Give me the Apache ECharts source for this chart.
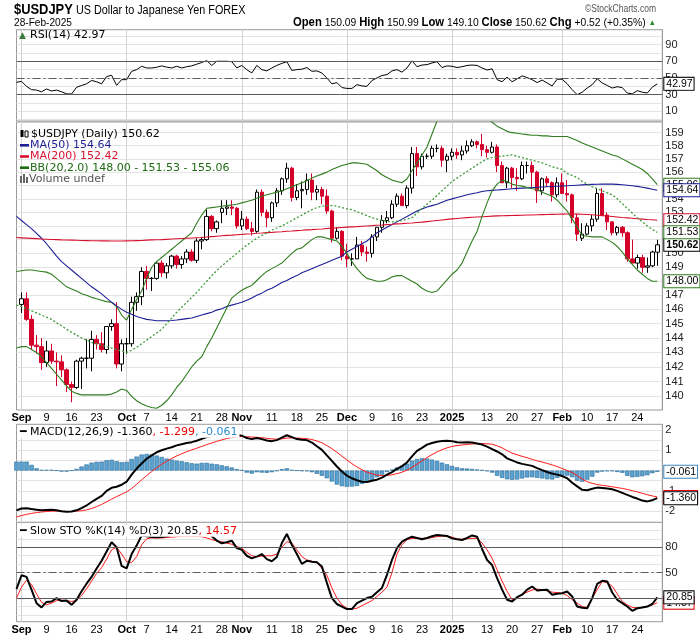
<!DOCTYPE html>
<html>
<head>
<meta charset="utf-8">
<script src="https://cdn.jsdelivr.net/npm/echarts@6.0.0/dist/echarts.min.js"></script>
<style>
html,body{margin:0;padding:0;background:#fff;}
#chart{width:700px;height:639px;}
</style>
</head>
<body>
<div id="chart"></div>
<script>
// ---------------- DATA ----------------
const holidays = ['2024-12-25', '2025-01-01'];
const firstDay = '2024-08-30';
const lastDay = '2025-02-28';
const padDays = ['2025-03-03'];

const xLabelDates = ['2024-09-02','2024-09-09','2024-09-16','2024-09-23','2024-10-01','2024-10-07','2024-10-14','2024-10-21','2024-10-28','2024-11-01','2024-11-11','2024-11-18','2024-11-25','2024-12-02','2024-12-09','2024-12-16','2024-12-23','2025-01-02','2025-01-13','2025-01-20','2025-01-27','2025-02-03','2025-02-10','2025-02-17','2025-02-24'];
const xLabelTexts = ['Sep','9','16','23','Oct','7','14','21','28','Nov','11','18','25','Dec','9','16','23','2025','13','20','27','Feb','10','17','24'];
const monthStarts = ['2024-09-02','2024-10-01','2024-11-01','2024-12-02','2025-01-02','2025-02-03'];

// first entry (30-Aug) lies on the left border: only indicators are shown for it
const opens = [null,146.35,146.75,145.3,143.5,143.4,142.3,143.1,142.4,142.35,
 141.8,140.8,140.6,142.4,142.6,142.6,143.9,143.6,143.2,144.8,
 145.0,142.2,143.6,143.6,146.5,146.9,148.7,148.2,148.2,149.3,
 148.6,149.1,149.8,149.2,149.6,150.1,149.5,150.9,151.0,152.7,
 151.8,153.0,153.3,153.4,153.3,152.0,152.5,151.8,151.6,154.5,
 153.0,152.6,153.7,154.6,155.5,156.3,154.1,154.6,154.7,155.4,
 154.5,154.7,154.2,153.1,151.1,151.6,149.8,149.6,149.6,150.6,
 150.1,150.0,151.2,151.9,152.4,152.6,153.6,154.2,153.5,154.8,
 157.4,156.4,157.2,157.2,157.8,157.8,156.9,157.2,157.5,157.3,
 157.6,158.0,158.3,158.1,157.7,157.5,157.9,156.5,155.2,156.3,
 155.6,155.5,156.5,156.5,156.0,154.6,155.5,155.2,154.3,155.2,
 154.4,154.3,152.6,151.1,151.4,152.0,152.5,154.4,152.8,152.3,
 151.5,151.9,151.5,149.6,149.3,149.7,149.0,149.1,150.09];
const highs = [null,147.2,147.2,145.6,144.2,144.0,143.8,143.6,143.0,142.8,
 141.9,141.0,142.5,142.7,143.9,144.5,144.2,144.4,144.8,145.3,
 146.5,143.9,144.0,146.9,147.2,149.0,149.1,148.3,149.4,149.5,
 149.3,149.9,149.9,149.8,150.3,150.3,151.1,151.2,153.2,152.8,
 152.4,153.9,153.9,153.9,153.4,153.1,152.7,152.3,154.7,154.7,
 153.2,153.8,154.8,155.6,156.7,156.4,155.1,155.3,155.9,155.9,
 155.0,154.9,154.7,153.2,151.9,151.7,150.7,150.0,151.2,150.9,
 150.5,151.4,151.9,152.8,153.1,153.9,154.4,154.4,155.0,157.9,
 157.9,157.4,157.4,158.0,158.1,158.0,157.4,157.8,157.8,158.0,
 158.4,158.5,158.4,158.9,158.0,158.3,158.1,156.8,156.4,156.4,
 156.3,156.8,156.8,156.8,156.1,155.6,155.7,155.3,155.6,155.9,
 155.4,154.4,152.9,152.2,152.2,152.8,154.8,154.8,153.0,152.3,
 152.0,152.0,151.6,151.0,149.9,149.9,149.7,150.2,150.99];
const lows = [null,145.75,145.2,143.2,142.9,141.8,142.0,142.2,140.7,141.3,
 140.3,139.6,140.5,140.5,141.9,141.7,143.2,143.0,142.9,144.5,
 141.9,141.7,142.9,143.4,145.9,146.3,147.4,147.3,148.1,148.3,
 148.2,148.9,148.9,148.9,149.3,149.4,149.3,150.3,150.9,151.6,
 151.5,152.2,152.8,152.8,151.8,151.7,151.7,151.3,151.5,152.7,
 151.9,152.3,153.4,154.3,155.2,153.8,153.9,153.3,154.3,153.9,
 153.9,153.6,152.9,150.8,151.0,149.5,149.0,149.1,149.6,149.8,
 149.4,149.7,150.9,151.5,152.2,152.5,153.4,153.5,153.3,154.4,
 155.7,156.2,157.0,157.0,157.5,156.4,156.0,156.9,157.0,156.9,
 157.4,157.9,157.8,157.2,157.1,157.4,156.0,155.2,154.8,154.8,
 154.6,155.4,155.9,154.9,153.7,154.3,154.9,153.8,154.1,154.8,
 153.8,152.2,150.9,150.9,151.3,151.6,152.3,152.8,151.7,151.3,
 151.3,151.2,149.4,149.3,148.9,148.6,148.6,149.0,149.10];
const closes = [null,146.75,145.3,143.5,143.4,142.3,143.1,142.4,142.35,141.8,
 140.8,140.6,142.4,142.6,142.6,143.9,143.6,143.2,144.8,145.0,
 142.2,143.6,143.6,146.5,146.9,148.7,148.2,148.2,149.3,148.6,
 149.1,149.8,149.2,149.6,150.1,149.5,150.9,151.0,152.7,151.8,
 152.3,153.3,153.4,153.3,152.0,152.5,151.8,151.6,154.5,153.0,
 152.6,153.7,154.6,155.5,156.3,154.1,154.6,154.7,155.4,154.5,
 154.7,154.2,153.1,151.1,151.6,149.8,149.6,149.6,150.6,150.1,
 150.0,151.2,151.9,152.4,152.6,153.6,154.2,153.5,154.8,157.4,
 156.4,157.2,157.2,157.8,157.8,156.9,157.2,157.5,157.3,157.6,
 158.0,158.3,158.1,157.7,157.5,157.9,156.5,155.2,156.3,155.6,
 155.5,156.5,156.5,156.0,154.6,155.5,155.2,154.3,155.2,154.4,
 154.3,152.6,151.4,151.4,152.0,152.5,154.4,152.8,152.3,151.5,
 151.9,151.5,149.6,149.3,149.7,149.0,149.1,150.1,150.62];

const ma50 = [152.7,152.4,152.1,151.8,151.45,151.1,150.7,150.25,149.8,149.4,
 149.1,148.8,148.5,148.2,147.9,147.6,147.35,147.1,146.8,146.5,
 146.25,146.0,145.8,145.65,145.5,145.4,145.3,145.25,145.2,145.2,
 145.2,145.22,145.25,145.3,145.35,145.4,145.5,145.6,145.7,145.8,
 145.95,146.05,146.2,146.3,146.4,146.5,146.65,146.8,147.0,147.15,
 147.35,147.5,147.7,147.9,148.05,148.25,148.4,148.6,148.75,148.9,
 149.05,149.2,149.35,149.5,149.65,149.8,150.1,150.3,150.5,150.7,
 150.9,151.2,151.5,151.7,151.9,152.1,152.3,152.5,152.7,152.9,
 153.1,153.25,153.4,153.5,153.6,153.75,153.9,154.0,154.1,154.2,
 154.3,154.38,154.46,154.55,154.6,154.63,154.66,154.69,154.72,154.75,
 154.78,154.8,154.82,154.84,154.86,154.88,154.9,154.92,154.94,154.96,
 154.98,155.0,155.02,155.04,155.06,155.08,155.09,155.1,155.1,155.1,
 155.08,155.05,155.02,154.98,154.93,154.87,154.8,154.72,154.64];
const ma200 = [151.15,151.13,151.11,151.09,151.07,151.05,151.03,151.01,151.0,150.98,
 150.97,150.96,150.95,150.94,150.93,150.92,150.92,150.91,150.91,150.9,
 150.9,150.9,150.91,150.92,150.93,150.94,150.96,150.98,150.99,151.0,
 151.02,151.04,151.06,151.08,151.1,151.12,151.14,151.16,151.19,151.22,
 151.25,151.28,151.31,151.33,151.36,151.38,151.41,151.43,151.46,151.48,
 151.51,151.53,151.56,151.58,151.61,151.63,151.66,151.68,151.71,151.73,
 151.76,151.78,151.81,151.84,151.86,151.89,151.91,151.93,151.95,151.98,
 152.0,152.02,152.05,152.07,152.1,152.12,152.15,152.17,152.2,152.22,
 152.25,152.28,152.32,152.36,152.4,152.44,152.48,152.52,152.55,152.58,
 152.61,152.64,152.66,152.68,152.7,152.72,152.74,152.75,152.76,152.77,
 152.78,152.79,152.8,152.81,152.82,152.83,152.84,152.85,152.86,152.87,
 152.88,152.88,152.87,152.86,152.84,152.82,152.79,152.76,152.73,152.7,
 152.66,152.62,152.59,152.56,152.53,152.5,152.47,152.45,152.42];
const bbUpper = [148.7,148.75,148.8,148.8,148.75,148.7,148.65,148.5,148.2,147.9,
 147.6,147.45,147.3,147.1,147.0,146.85,146.75,146.65,146.55,146.5,
 146.2,145.6,145.25,146.0,146.7,147.3,148.2,149.0,149.4,149.7,
 150.0,150.3,150.6,150.9,151.2,151.5,152.2,152.8,153.3,153.35,
 153.4,153.45,153.5,153.55,153.6,153.7,153.8,153.9,154.05,154.2,
 154.3,154.4,154.5,154.6,154.75,154.9,155.05,155.2,155.35,155.55,
 155.7,155.85,156.0,156.2,156.35,156.5,156.6,156.7,156.7,156.65,
 156.6,156.35,156.1,155.8,155.6,155.4,155.3,155.2,155.5,156.1,
 156.7,157.3,157.9,158.9,159.9,160.3,160.6,160.8,160.9,160.9,
 160.8,160.7,160.5,160.3,160.1,159.8,159.5,159.3,159.1,159.0,
 158.95,158.9,158.85,158.8,158.8,158.75,158.75,158.7,158.7,158.7,
 158.7,158.55,158.4,158.2,158.05,157.9,157.75,157.6,157.45,157.3,
 157.2,157.0,156.8,156.6,156.4,156.2,155.9,155.5,155.06];
const bbMid = [146.3,146.2,146.05,145.9,145.75,145.6,145.45,145.3,145.05,144.85,
 144.6,144.4,144.2,144.0,143.85,143.7,143.6,143.5,143.4,143.3,
 143.2,143.1,143.0,143.15,143.35,143.6,143.85,144.1,144.35,144.6,
 145.0,145.4,145.8,146.15,146.5,146.85,147.2,147.6,148.0,148.4,
 148.75,149.1,149.4,149.7,150.0,150.3,150.6,150.85,151.1,151.3,
 151.5,151.7,151.85,152.0,152.2,152.4,152.6,152.8,153.0,153.2,
 153.35,153.45,153.5,153.5,153.45,153.35,153.25,153.2,153.05,152.9,
 152.75,152.6,152.5,152.4,152.35,152.3,152.35,152.4,152.5,152.6,
 152.95,153.3,153.6,153.9,154.25,154.6,154.95,155.3,155.55,155.8,
 156.05,156.3,156.55,156.8,157.0,157.1,157.15,157.2,157.25,157.3,
 157.2,157.1,157.0,156.9,156.8,156.7,156.55,156.4,156.3,156.2,
 155.9,155.75,155.6,155.3,155.1,154.9,154.75,154.6,154.45,154.3,
 154.0,153.65,153.3,152.95,152.6,152.3,152.0,151.75,151.53];
const bbLower = [143.3,143.4,143.4,143.2,143.0,142.7,142.3,141.9,141.5,141.1,
 140.7,140.35,140.2,140.1,140.1,140.1,140.1,140.1,140.1,140.15,
 140.3,140.5,140.4,140.0,139.7,139.5,139.35,139.25,139.2,139.4,
 139.7,140.1,140.6,141.0,141.5,142.0,142.4,142.7,143.4,144.0,
 144.7,145.4,146.1,146.8,147.1,147.35,147.55,147.7,148.05,148.4,
 148.7,148.9,149.1,149.3,149.65,150.0,150.3,150.4,150.7,151.0,
 151.2,151.2,151.1,151.0,150.9,150.5,150.0,149.4,148.9,148.5,
 148.2,148.1,148.0,148.0,148.1,148.3,148.4,148.4,148.2,148.0,
 147.8,147.5,147.3,147.2,147.3,147.7,148.1,148.5,148.8,149.3,
 150.1,150.9,151.6,152.7,153.7,154.6,155.1,155.4,155.3,155.1,
 155.0,154.95,154.85,154.75,154.7,154.5,154.35,154.2,153.9,153.5,
 153.1,152.5,151.9,151.3,151.25,151.2,151.2,151.2,151.0,150.8,
 150.5,150.1,149.6,149.2,148.8,148.5,148.2,148.0,148.0];

const rsi = [44.8,46,40,36,35.5,33.5,36.8,34.5,35.5,33.5,
 31,30.8,38.9,41,43,47,45.5,43,51.7,53.2,
 41.2,48,48,58,60,64,62,62,62.8,64.5,
 63,62,64,62,63.5,64.5,66.5,68.5,70.8,65,
 70,70,70,69.5,62,65,60,56,65,60,
 58.5,62,65,67.5,69.5,59,60,60.5,62.5,58,
 58.5,56,50,43,44.5,38.5,37.5,37.5,42,40.5,
 40,47,50,53,54,58.5,60,57,62,70.5,
 63.5,65.5,66,68,69.5,62.5,64.5,64,62.5,63.5,
 65,65.5,65,62,59.5,61,48,45.5,51,45.5,
 49,52.5,50.5,48,44.5,47.5,44,40.5,48.5,48.5,
 43,36,30,33,38,42,49,44,41,38,
 39.5,38.5,32,31,34.8,33,32,39,42.97];

const macd = [-1.96,-1.87,-1.86,-1.9,-1.93,-1.96,-1.94,-1.93,-1.96,-2.0,
 -2.03,-2.02,-1.96,-1.85,-1.72,-1.55,-1.4,-1.25,-1.0,-0.85,
 -0.8,-0.7,-0.55,-0.2,0.1,0.35,0.58,0.75,0.9,1.0,
 1.08,1.15,1.24,1.3,1.36,1.4,1.47,1.56,1.65,1.7,
 1.75,1.8,1.83,1.82,1.76,1.72,1.6,1.55,1.6,1.55,
 1.48,1.45,1.5,1.62,1.74,1.65,1.55,1.52,1.5,1.38,
 1.2,1.02,0.75,0.48,0.2,-0.05,-0.25,-0.38,-0.48,-0.55,
 -0.56,-0.5,-0.45,-0.35,-0.2,-0.08,0.08,0.22,0.4,0.7,
 0.97,1.12,1.28,1.36,1.42,1.46,1.47,1.45,1.4,1.38,
 1.4,1.38,1.33,1.28,1.18,1.06,0.94,0.8,0.6,0.5,
 0.4,0.33,0.28,0.23,0.12,0.02,-0.07,-0.15,-0.2,-0.27,
 -0.38,-0.6,-0.78,-0.95,-0.97,-0.9,-0.84,-0.86,-0.88,-0.92,
 -1.0,-1.1,-1.2,-1.3,-1.38,-1.48,-1.52,-1.46,-1.36];
const macdSignal = [-2.28,-2.22,-2.16,-2.11,-2.07,-2.04,-2.02,-2.0,-2.0,-2.01,
 -2.02,-2.02,-2.0,-1.98,-1.94,-1.87,-1.78,-1.67,-1.54,-1.41,
 -1.28,-1.17,-1.05,-0.88,-0.68,-0.46,-0.25,-0.05,0.14,0.31,
 0.46,0.6,0.72,0.83,0.93,1.02,1.1,1.19,1.28,1.36,
 1.44,1.51,1.58,1.63,1.66,1.68,1.67,1.65,1.64,1.62,
 1.59,1.56,1.55,1.56,1.6,1.61,1.6,1.59,1.57,1.53,
 1.46,1.37,1.23,1.08,0.9,0.71,0.52,0.34,0.18,0.04,
 -0.08,-0.16,-0.22,-0.25,-0.24,-0.21,-0.15,-0.08,0.02,0.15,
 0.32,0.48,0.64,0.79,0.92,1.03,1.12,1.19,1.23,1.26,
 1.29,1.31,1.32,1.33,1.32,1.3,1.22,1.12,0.98,0.86,
 0.78,0.7,0.63,0.55,0.48,0.42,0.35,0.28,0.2,0.1,
 0.0,-0.1,-0.25,-0.42,-0.55,-0.63,-0.69,-0.73,-0.76,-0.8,
 -0.84,-0.88,-0.93,-0.99,-1.05,-1.12,-1.19,-1.25,-1.299];
const macdHist = [0.44,0.44,0.44,0.28,0.11,0.03,0.03,0.03,0,-0.05,
 -0.05,0,0.08,0.2,0.3,0.39,0.43,0.44,0.51,0.53,
 0.46,0.41,0.43,0.57,0.69,0.79,0.82,0.79,0.74,0.67,
 0.59,0.54,0.49,0.46,0.41,0.36,0.34,0.38,0.38,0.34,
 0.31,0.26,0.21,0.15,0.07,0.02,-0.1,-0.15,-0.08,-0.1,
 -0.11,-0.08,-0.02,0.07,0.11,0.03,0,-0.02,-0.03,-0.08,
 -0.16,-0.26,-0.38,-0.54,-0.69,-0.77,-0.8,-0.79,-0.76,-0.66,
 -0.56,-0.46,-0.33,-0.2,-0.07,0.05,0.15,0.23,0.34,0.49,
 0.57,0.61,0.59,0.54,0.48,0.39,0.31,0.23,0.16,0.11,
 0.1,0.08,0.05,0.02,-0.03,-0.1,-0.26,-0.36,-0.43,-0.46,
 -0.44,-0.39,-0.34,-0.33,-0.36,-0.39,-0.43,-0.44,-0.36,-0.26,
 -0.25,-0.33,-0.5,-0.55,-0.45,-0.3,-0.1,-0.05,-0.03,-0.03,
 -0.07,-0.11,-0.26,-0.33,-0.31,-0.28,-0.23,-0.13,-0.061];

const stoK = [30.6,47,45,30,14,9,15.5,16,20,16.5,
 17,12,18,28,37,45,55,64,75,86,
 80,58,55,72,82,94,93,92,91.7,92,
 93,94.5,95,95,95,95,95,96,97,93,
 88,84.7,86,87.8,79,77,70,67,69,72,
 66,63.5,68.6,85,95.7,83,72,60.4,64,63,
 62.4,57.4,38,20,13,10,7,7,14,17,
 20,21.5,27,32,47.5,65,79,86.6,90,92.5,
 91,89.4,91,93,94.5,94,93.3,90.5,89.5,88.6,
 91,94,92.5,78,65,59,43.5,30,18,16,
 21,24,30,33.7,29,29.5,29.8,24,25,25.7,
 27.7,21.8,10,8.5,8,20,36.9,40.4,39.6,26.6,
 18,14,10,5,8,9,10,13,20.85];
const stoD = [20,33,41,36,25,15,12,14,17,17.5,
 17,16,17,23,31,40,49,56,66,77,
 80,72,63,62,69,83,90,91,91,91,
 91.5,92,92.5,93,93,93,93,92.5,91,89,
 87.5,86.6,85,83.5,81,79,74,70,69,69.5,
 70,70,72,80,86.6,85,77,69,65,63.5,
 62.4,55,47,32,20,12,8,7,8,11,
 14,17,22,27,33,50,72,83,89,90.5,
 90.5,90.5,90.5,91.5,92.5,93.3,93.3,92,90,89.4,
 90,90.5,90.5,85,77,67,53.5,40,28,18,
 20,24,27,29.5,30.6,30,28.5,27,26.5,25.7,
 23,18,14,10,9,20,30,39.6,38,34,
 25,16,12,9,8.5,9,10,12,14.57];

const priceTicks = [140,141,142,143,144,145,146,147,148,149,150,151,152,153,154,155,156,157,158,159];
const rsiTicks = [0,10,20,30,40,50,60,70,80,90,100];
const rsiLabels = [10,30,50,70,90];
const macdTicks = [-2.5,-2,-1.5,-1,-0.5,0,0.5,1,1.5,2];
const macdLabels = [-2,-1,0,1,2];
const stoTicks = [0,10,20,30,40,50,60,70,80,90,100];
const stoLabels = [20,50,80];

const quote = {symbol:'$USDJPY', name:'US Dollar to Japanese Yen FOREX', date:'28-Feb-2025',
  open:'150.09', high:'150.99', low:'149.10', close:'150.62', chg:'+0.52', chgPct:'+0.35%'};

// ---------------- BUILD ----------------
function tradingDays(start, end, skip) {
  const out = [];
  const d = new Date(start + 'T00:00:00Z');
  const e = new Date(end + 'T00:00:00Z');
  while (d <= e) {
    const wd = d.getUTCDay();
    const s = d.toISOString().slice(0, 10);
    if (wd !== 0 && wd !== 6 && skip.indexOf(s) < 0) out.push(s);
    d.setUTCDate(d.getUTCDate() + 1);
  }
  return out;
}
const dates = tradingDays(firstDay, lastDay, holidays);
const categories = dates.concat(padDays);
const labelMap = {};
xLabelDates.forEach((d, i) => { labelMap[d] = xLabelTexts[i]; });
const monthSet = new Set(monthStarts);
const boldLabels = new Set(['Sep','Oct','Nov','Dec','2025','Feb']);
const candles = dates.map((d, i) => opens[i] == null ? '-' : [opens[i], closes[i], lows[i], highs[i]]);
const last = a => a[a.length - 1];

const AX_FONT = '"Liberation Sans", Arial, sans-serif';
const VERD = '"DejaVu Sans", Verdana, sans-serif';

const L = 16.5, W = 645.8;
const grids = [
  {left: L, top: 29.7, width: W, height: 91.3},
  {left: L, top: 122, width: W, height: 288},
  {left: L, top: 424.3, width: W, height: 98},
  {left: L, top: 522.3, width: W, height: 99.4}
].map(g => Object.assign(g, {show: true, borderColor: '#9a9a9a', borderWidth: 1, backgroundColor: '#fff', containLabel: false, outerBoundsMode: 'none'}));

const xAxes = [0, 1, 2, 3].map(i => ({
  type: 'category', gridIndex: i, data: categories, boundaryGap: false,
  axisLine: {show: false}, axisTick: {show: false},
  axisLabel: (i === 1 || i === 3) ? {
    show: true, margin: i === 1 ? 2 : 3, fontSize: 11, color: '#000', fontFamily: AX_FONT,
    interval: (idx, val) => labelMap[val] !== undefined,
    formatter: (val) => { const t = labelMap[val]; if (t === undefined) return ''; return boldLabels.has(t) ? '{b|' + t + '}' : t; },
    rich: {b: {fontWeight: 'bold', fontSize: 11, fontFamily: AX_FONT, color: '#000'}}
  } : {show: false},
  splitLine: {show: true, interval: (idx, val) => monthSet.has(val), lineStyle: {color: '#d2d2d2', width: 1}}
}));

const ySplit = {show: true, lineStyle: {color: '#e4e4e4', width: 1}};
const yLabelBase = {fontSize: 11, color: '#222', fontFamily: AX_FONT, margin: 3};
const yAxes = [
  {type: 'value', gridIndex: 0, position: 'right', min: -1.5, max: 107.8,
   axisLine: {show: true, lineStyle: {color: '#9a9a9a'}}, axisTick: {show: false, customValues: rsiTicks},
   axisLabel: Object.assign({customValues: rsiLabels}, yLabelBase), splitLine: ySplit},
  {type: 'log', logBase: 10, gridIndex: 1, position: 'right', min: 139.08, max: 159.82,
   axisLine: {show: true, lineStyle: {color: '#9a9a9a'}}, axisTick: {show: false, customValues: priceTicks},
   axisLabel: Object.assign({customValues: priceTicks, formatter: v => String(Math.round(v))}, yLabelBase), splitLine: ySplit},
  {type: 'value', gridIndex: 2, position: 'right', min: -2.55, max: 2.28,
   axisLine: {show: true, lineStyle: {color: '#9a9a9a'}}, axisTick: {show: false, customValues: macdTicks},
   axisLabel: Object.assign({customValues: macdLabels}, yLabelBase), splitLine: ySplit},
  {type: 'value', gridIndex: 3, position: 'right', min: -7.9, max: 109.5,
   axisLine: {show: true, lineStyle: {color: '#9a9a9a'}}, axisTick: {show: false, customValues: stoTicks},
   axisLabel: Object.assign({customValues: stoLabels}, yLabelBase), splitLine: ySplit}
];

function tag(v, text, border, bold) {
  return {
    yAxis: v, lineStyle: {width: 1, color: 'rgba(0,0,0,0)', type: 'solid'},
    label: {show: true, position: 'end', distance: 2, formatter: text,
      color: '#000', fontSize: 10.5, fontFamily: AX_FONT, fontWeight: bold ? 'bold' : 'normal',
      backgroundColor: '#fff', borderColor: border, borderWidth: 1, padding: [1, 1, 0, 2]}
  };
}
function refLine(v, dash) {
  return {yAxis: v, lineStyle: {color: '#5a5a5a', width: 1, type: dash ? [8, 3, 2, 3] : 'solid'}, label: {show: false}};
}
function marks(items) { return {silent: true, symbol: ['none', 'none'], animation: false, precision: 4, data: items}; }
function line(name, xi, data, color, width, extra) {
  return Object.assign({name: name, type: 'line', xAxisIndex: xi, yAxisIndex: xi, data: data,
    symbol: 'none', showSymbol: false, silent: true, animation: false, clip: true,
    lineStyle: {color: color, width: width}, itemStyle: {color: color}}, extra || {});
}

const C_MA50 = '#1e1e96', C_MA200 = '#d8102e', C_BB = '#2f7d1f', C_BBM = '#3f9a3a', C_RED = '#d4002a';

const series = [
  line('RSI', 0, rsi, '#000', 1, {markLine: marks([refLine(70), refLine(30), refLine(50, true), tag(last(rsi), last(rsi).toFixed(2), '#000')])}),
  {name: 'Price', type: 'candlestick', xAxisIndex: 1, yAxisIndex: 1, data: candles, barWidth: 4, silent: true, animation: false, clip: true,
   itemStyle: {color: '#ffffff', color0: C_RED, borderColor: '#000', borderColor0: C_RED, borderColorDoji: '#000', borderWidth: 1},
   markLine: marks([tag(Number(quote.close), quote.close, '#000', true)])},
  line('BBU', 1, bbUpper, C_BB, 1.1, {markLine: marks([tag(last(bbUpper), last(bbUpper).toFixed(2), C_BB)])}),
  line('MA50', 1, ma50, C_MA50, 1.1, {markLine: marks([tag(last(ma50), last(ma50).toFixed(2), C_MA50)])}),
  line('MA200', 1, ma200, C_MA200, 1.1, {markLine: marks([tag(last(ma200), last(ma200).toFixed(2), C_MA200)])}),
  line('BBM', 1, bbMid, C_BBM, 1.3, {lineStyle: {color: C_BBM, width: 1.3, type: [2, 2]}, markLine: marks([tag(last(bbMid), last(bbMid).toFixed(2), C_BB)])}),
  line('BBL', 1, bbLower, C_BB, 1.1, {markLine: marks([tag(last(bbLower), last(bbLower).toFixed(2), C_BB)])}),
  {name: 'Hist', type: 'bar', xAxisIndex: 2, yAxisIndex: 2, data: macdHist, barWidth: 4.4, silent: true, animation: false,
   itemStyle: {color: '#5aa3d0', borderColor: '#2c6d9c', borderWidth: 0.6},
   markLine: marks([tag(last(macdHist), last(macdHist).toFixed(3), '#3c84bd')])},
  line('Signal', 2, macdSignal, '#ff1a1a', 1, {markLine: marks([tag(last(macdSignal), last(macdSignal).toFixed(3), '#e00000')])}),
  line('MACD', 2, macd, '#000', 2, {markLine: marks([tag(last(macd), last(macd).toFixed(3), '#000')])}),
  line('%D', 3, stoD, '#ff1a1a', 1, {markLine: marks([refLine(80), refLine(20), refLine(50, true), tag(last(stoD), last(stoD).toFixed(2), '#e00000')])}),
  line('%K', 3, stoK, '#000', 2, {markLine: marks([tag(last(stoK), last(stoK).toFixed(2), '#000')])})
];

// ---------------- TEXT / LEGENDS ----------------
function txt(x, y, text, font, fill, extra, sx) {
  return {type: 'text', z: 100, silent: true, x: x, y: y, scaleX: sx || 1, scaleY: 1,
    style: Object.assign({x: 0, y: 0, text: text, font: font, fill: fill, verticalAlign: 'middle', align: 'left'}, extra || {})};
}
function rect(x, y, w, h, fill, stroke) {
  return {type: 'rect', z: 100, silent: true, shape: {x: x, y: y, width: w, height: h},
    style: {fill: fill, stroke: stroke || null, lineWidth: stroke ? 1 : 0}};
}
const graphics = [
  txt(14, 10, quote.symbol, 'bold 15px ' + AX_FONT, '#000', null, 0.86),
  txt(76, 11, quote.name, '12px ' + AX_FONT, '#000', null, 0.9),
  txt(656, 9, '\u00A9StockCharts.com', '10px ' + AX_FONT, '#555', {align: 'right'}, 0.85),
  txt(14, 22.5, quote.date, '11px ' + AX_FONT, '#000', null, 0.92),
  txt(656, 22.5,
    '{b|Open} ' + quote.open + ' {b|High} ' + quote.high + ' {b|Low} ' + quote.low + ' {b|Close} ' + quote.close +
    ' {b|Chg} ' + quote.chg + ' (' + quote.chgPct + ') {g|\u25B2}',
    '11px ' + AX_FONT, '#000',
    {align: 'right', rich: {b: {fontWeight: 'bold', fontSize: 12, fontFamily: AX_FONT, fill: '#000'},
                           g: {fontSize: 8, fill: '#2a8a2a', fontFamily: AX_FONT}}}, 0.94),
  // RSI legend
  txt(19, 35.5, '\u25B2', '9px ' + VERD, '#3c7a3c'),
  txt(30, 35.5, 'RSI(14) ' + last(rsi).toFixed(2), '11px ' + VERD, '#000'),
  // main legend
  rect(20.5, 130, 3, 7, '#000'), rect(25, 131, 3, 6, '#fff', '#000'),
  txt(31, 134, quote.symbol + ' (Daily) ' + quote.close, '11px ' + VERD, '#000'),
  rect(20, 144, 9, 2.6, C_MA50),
  txt(30, 145.3, 'MA(50) ' + last(ma50).toFixed(2), '11px ' + VERD, C_MA50),
  rect(20, 155.2, 9, 2.6, C_MA200),
  txt(30, 156.5, 'MA(200) ' + last(ma200).toFixed(2), '11px ' + VERD, C_MA200),
  rect(20, 166.4, 9, 2.6, '#1d6b12'),
  txt(30, 167.7, 'BB(20,2.0) ' + last(bbLower).toFixed(2) + ' - ' + last(bbMid).toFixed(2) + ' - ' + last(bbUpper).toFixed(2), '11px ' + VERD, '#1d6b12'),
  rect(20, 176, 2, 7, '#666'), rect(23, 174, 2, 9, '#666'), rect(26, 177, 2, 6, '#666'),
  txt(29, 178.9, 'Volume undef', '11px ' + VERD, '#555'),
  // MACD legend
  txt(18, 431.7, '{i|\u2501} {k|MACD(12,26,9) ' + last(macd).toFixed(3) + '}{r|, ' + last(macdSignal).toFixed(3) + '}{c|, ' + last(macdHist).toFixed(3) + '}',
    '11px ' + VERD, '#000',
    {backgroundColor: '#fff', padding: [1, 2, 0, 2],
     rich: {i: {fill: '#000', fontSize: 11, fontFamily: VERD, fontWeight: 'bold'}, k: {fill: '#000', fontSize: 11, fontFamily: VERD},
            r: {fill: '#ee0000', fontSize: 11, fontFamily: VERD}, c: {fill: '#2f8bd0', fontSize: 11, fontFamily: VERD}}}),
  // STO legend
  txt(18, 530.7, '{i|\u2501} {k|Slow STO %K(14) %D(3) ' + last(stoK).toFixed(2) + '}{r|, ' + last(stoD).toFixed(2) + '}',
    '11px ' + VERD, '#000',
    {backgroundColor: '#fff', padding: [1, 2, 0, 2],
     rich: {i: {fill: '#000', fontSize: 11, fontFamily: VERD, fontWeight: 'bold'}, k: {fill: '#000', fontSize: 11, fontFamily: VERD},
            r: {fill: '#ee0000', fontSize: 11, fontFamily: VERD}}})
];

const chart = echarts.init(document.getElementById('chart'), null, {renderer: 'canvas'});
chart.setOption({
  animation: false,
  backgroundColor: '#fff',
  grid: grids,
  xAxis: xAxes,
  yAxis: yAxes,
  series: series,
  graphic: graphics
});
</script>
</body>
</html>
